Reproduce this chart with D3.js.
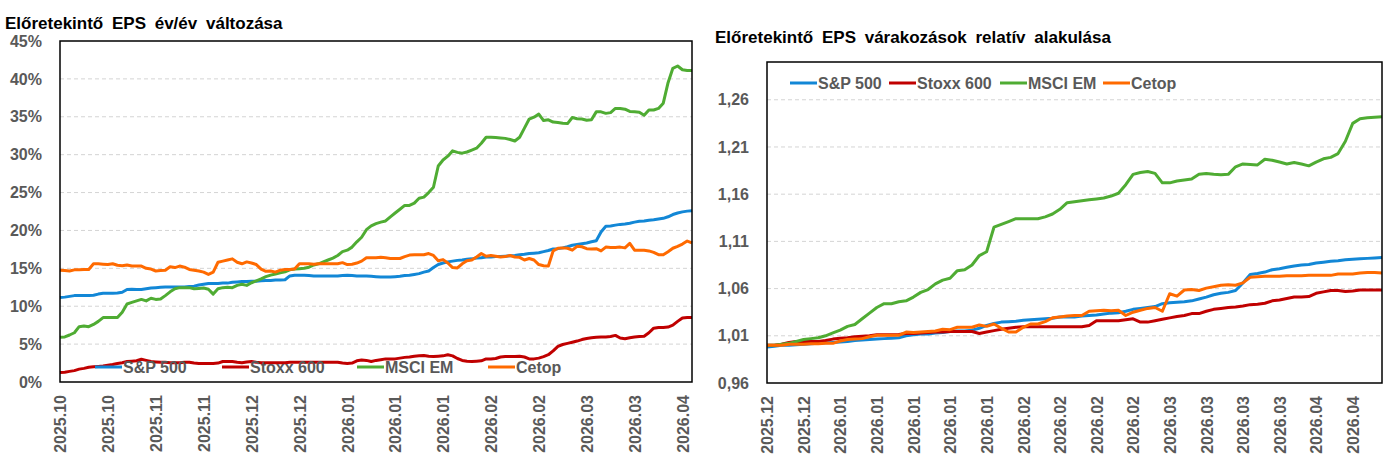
<!DOCTYPE html>
<html>
<head>
<meta charset="utf-8">
<script src="https://cdn.jsdelivr.net/npm/d3@7/dist/d3.min.js"></script>
<style>
  body { margin: 0; background: #ffffff; }
  svg text { font-family: "Liberation Sans", Arial, sans-serif; font-weight: bold; }
</style>
</head>
<body>
<script>
var seriesNames = ["S&P 500", "Stoxx 600", "MSCI EM", "Cetop"];
var seriesColors = ["#1287d6", "#c00000", "#4fac33", "#ff6a00"];

// bal oldali grafikon: eves valtozas, %
var yoyDateLabels = ["2025.10", "2025.10", "2025.11", "2025.11", "2025.12", "2025.12", "2026.01",
  "2026.01", "2026.01", "2026.02", "2026.02", "2026.03", "2026.03", "2026.04"];
var yoyTicks = [0, 5, 10, 15, 20, 25, 30, 35, 40, 45];

var yoySp500 = [11.15, 11.2, 11.3, 11.4, 11.4, 11.4, 11.4, 11.45, 11.6, 11.7,
  11.7, 11.7, 11.75, 11.85, 12.2, 12.25, 12.2, 12.2, 12.3, 12.4,
  12.45, 12.5, 12.55, 12.55, 12.55, 12.55, 12.55, 12.6, 12.65, 12.8,
  12.9, 13.0, 13.0, 13.0, 13.05, 13.05, 13.15, 13.2, 13.25, 13.25,
  13.3, 13.3, 13.35, 13.4, 13.4, 13.45, 13.45, 13.5, 14.0, 14.1,
  14.1, 14.1, 14.05, 14.0, 14.0, 14.0, 14.0, 14.0, 14.0, 14.05,
  14.1, 14.05, 14.0, 14.0, 14.0, 13.95, 13.9, 13.85, 13.85, 13.85,
  13.9, 13.95, 14.05, 14.1, 14.2, 14.3, 14.5, 14.65, 15.1, 15.5,
  15.7, 15.85, 15.95, 16.05, 16.1, 16.2, 16.25, 16.35, 16.4, 16.5,
  16.5, 16.55, 16.55, 16.6, 16.65, 16.7, 16.8, 16.85, 16.95, 17.0,
  17.05, 17.2, 17.35, 17.55, 17.6, 17.7, 17.85, 18.05, 18.15, 18.25,
  18.35, 18.5, 18.65, 19.8, 20.55, 20.6, 20.7, 20.8, 20.85, 20.95,
  21.1, 21.2, 21.25, 21.35, 21.4, 21.5, 21.6, 21.8, 22.1, 22.3,
  22.45, 22.55, 22.6];

var yoyStoxx600 = [1.25, 1.3, 1.4, 1.5, 1.7, 1.8, 1.95, 2.0, 2.05, 2.1,
  2.2, 2.3, 2.45, 2.55, 2.7, 2.75, 2.8, 3.0, 2.85, 2.7,
  2.65, 2.6, 2.6, 2.55, 2.55, 2.55, 2.6, 2.6, 2.5, 2.45,
  2.45, 2.45, 2.45, 2.5, 2.7, 2.7, 2.7, 2.6, 2.55, 2.65,
  2.7, 2.6, 2.55, 2.55, 2.55, 2.55, 2.55, 2.55, 2.6, 2.6,
  2.6, 2.6, 2.6, 2.6, 2.6, 2.6, 2.6, 2.6, 2.6, 2.5,
  2.45, 2.5, 2.8, 2.9, 2.85, 2.7, 2.85, 2.95, 3.05, 3.05,
  3.05, 3.15, 3.25, 3.3, 3.4, 3.45, 3.5, 3.4, 3.35, 3.4,
  3.45, 3.6, 3.45, 3.1, 2.85, 2.75, 2.7, 2.75, 2.8, 3.05,
  3.05, 3.1, 3.3, 3.35, 3.35, 3.35, 3.4, 3.3, 3.05, 3.05,
  3.15, 3.35, 3.6, 4.1, 4.7, 4.95, 5.1, 5.25, 5.4, 5.6,
  5.75, 5.85, 5.9, 5.95, 5.95, 6.0, 6.15, 5.8, 5.7, 5.85,
  5.95, 6.0, 6.05, 6.5, 7.1, 7.2, 7.2, 7.25, 7.5, 8.0,
  8.45, 8.5, 8.5];

var yoyMsciEm = [5.9, 5.95, 6.2, 6.5, 7.3, 7.4, 7.3, 7.6, 8.0, 8.5,
  8.5, 8.5, 8.5, 9.2, 10.3, 10.5, 10.7, 10.9, 10.7, 11.05,
  10.9, 10.95, 11.4, 11.9, 12.3, 12.45, 12.45, 12.45, 12.3, 12.35,
  12.4, 12.25, 11.6, 12.3, 12.45, 12.5, 12.45, 12.75, 12.9, 12.75,
  13.1, 13.35, 13.6, 13.9, 14.1, 14.25, 14.4, 14.55, 14.8, 14.9,
  14.95, 15.0, 15.15, 15.45, 15.6, 15.85, 16.1, 16.35, 16.7, 17.2,
  17.4, 17.8, 18.5, 19.1, 20.1, 20.6, 20.9, 21.1, 21.25, 21.8,
  22.3, 22.8, 23.3, 23.3, 23.6, 24.25, 24.4, 25.0, 25.7, 28.5,
  29.3, 29.8, 30.5, 30.3, 30.2, 30.35, 30.6, 30.85, 31.5, 32.3,
  32.3, 32.25, 32.2, 32.15, 32.0, 31.8, 32.3, 33.5, 34.7, 34.95,
  35.35, 34.5, 34.6, 34.3, 34.25, 34.15, 34.1, 34.9, 34.75, 34.7,
  34.55, 34.6, 35.65, 35.65, 35.45, 35.55, 36.1, 36.1, 36.0, 35.7,
  35.65, 35.6, 35.2, 35.9, 35.9, 36.1, 36.8, 39.5, 41.4, 41.7,
  41.2, 41.1, 41.1];

var yoyCetop = [14.75, 14.7, 14.65, 14.8, 14.8, 14.85, 14.85, 15.6, 15.6, 15.55,
  15.5, 15.6, 15.4, 15.35, 15.45, 15.3, 15.3, 15.3, 15.0, 14.9,
  14.65, 14.7, 14.75, 15.2, 15.1, 15.3, 15.15, 14.85, 14.75, 14.65,
  14.5, 14.2, 14.5, 15.8, 15.95, 16.1, 16.25, 15.8, 15.6, 15.85,
  15.7, 15.5, 14.9, 14.6, 14.65, 14.5, 14.75, 14.85, 14.85, 14.9,
  15.6, 15.6, 15.6, 15.55, 15.6, 15.6, 15.6, 15.6, 15.6, 15.75,
  15.5, 15.55, 15.7, 15.95, 16.4, 16.4, 16.4, 16.45, 16.4, 16.3,
  16.3, 16.3, 16.55, 16.75, 16.8, 16.8, 16.8, 16.95, 16.7, 16.0,
  16.15, 15.7, 15.1, 15.05, 15.6, 16.0, 16.1, 16.5, 16.95, 16.6,
  16.7, 16.6, 16.5, 16.55, 16.7, 16.5, 16.45, 16.1, 16.3, 16.1,
  15.5, 15.35, 15.3, 17.3, 17.65, 17.7, 17.65, 17.4, 17.9, 17.85,
  17.6, 17.55, 17.6, 17.3, 17.8, 17.75, 17.75, 17.8, 17.7, 18.3,
  17.4, 17.4, 17.4, 17.3, 17.1, 16.8, 16.8, 17.2, 17.65, 17.9,
  18.2, 18.6, 18.35];

// jobb oldali grafikon: relativ alakulas
var relDateLabels = ["2025.12", "2025.12", "2026.01", "2026.01", "2026.01", "2026.01", "2026.01",
  "2026.02", "2026.02", "2026.02", "2026.02", "2026.03", "2026.03", "2026.03", "2026.03",
  "2026.04", "2026.04"];
var relTicks = [0.96, 1.01, 1.06, 1.11, 1.16, 1.21, 1.26];

var relSp500 = [0.998, 0.999, 1.000, 1.000, 1.0005, 1.001, 1.0015, 1.002, 1.0025, 1.003,
  1.0035, 1.004, 1.005, 1.0055, 1.006, 1.0065, 1.007, 1.0075, 1.008, 1.010,
  1.011, 1.012, 1.012, 1.013, 1.0135, 1.0145, 1.015, 1.015, 1.016, 1.018,
  1.021, 1.023, 1.0245, 1.025, 1.0255, 1.0265, 1.027, 1.0275, 1.028, 1.0285,
  1.030, 1.030, 1.030, 1.031, 1.0315, 1.032, 1.033, 1.034, 1.0345, 1.036,
  1.038, 1.039, 1.040, 1.041, 1.044, 1.045, 1.0455, 1.046, 1.047, 1.049,
  1.051, 1.0535, 1.055, 1.056, 1.058, 1.066, 1.075, 1.076, 1.0775, 1.080,
  1.081, 1.0825, 1.084, 1.085, 1.0855, 1.087, 1.088, 1.089, 1.0895, 1.0905,
  1.091, 1.0915, 1.092, 1.0925, 1.093];

var relStoxx600 = [1.000, 1.000, 1.001, 1.003, 1.004, 1.004, 1.004, 1.004, 1.005, 1.0065,
  1.0075, 1.008, 1.009, 1.0095, 1.010, 1.011, 1.011, 1.011, 1.0115, 1.0125,
  1.0125, 1.013, 1.0135, 1.014, 1.014, 1.0145, 1.0145, 1.0145, 1.0145, 1.0125,
  1.014, 1.0155, 1.017, 1.018, 1.019, 1.0195, 1.0195, 1.0195, 1.0195, 1.0195,
  1.0195, 1.0195, 1.0195, 1.0195, 1.021, 1.026, 1.026, 1.026, 1.026, 1.027,
  1.028, 1.0245, 1.0245, 1.026, 1.0275, 1.029, 1.0305, 1.0315, 1.0335, 1.0335,
  1.036, 1.038, 1.039, 1.040, 1.0405, 1.0415, 1.043, 1.0435, 1.0445, 1.047,
  1.048, 1.0495, 1.051, 1.051, 1.0515, 1.055, 1.0565, 1.058, 1.058, 1.057,
  1.0575, 1.0585, 1.0585, 1.0585, 1.0585];

var relMsciEm = [1.000, 1.000, 1.001, 1.002, 1.004, 1.006, 1.007, 1.008, 1.010, 1.013,
  1.016, 1.020, 1.022, 1.028, 1.034, 1.040, 1.044, 1.044, 1.046, 1.047,
  1.051, 1.056, 1.059, 1.065, 1.069, 1.071, 1.079, 1.080, 1.085, 1.095,
  1.099, 1.125, 1.128, 1.131, 1.134, 1.134, 1.134, 1.134, 1.136, 1.139,
  1.144, 1.151, 1.152, 1.153, 1.154, 1.155, 1.156, 1.158, 1.161, 1.170,
  1.181, 1.183, 1.184, 1.182, 1.172, 1.172, 1.174, 1.175, 1.176, 1.181,
  1.182, 1.181, 1.1805, 1.181, 1.189, 1.192, 1.1915, 1.191, 1.197, 1.196,
  1.194, 1.192, 1.1935, 1.192, 1.190, 1.194, 1.1975, 1.199, 1.203, 1.216,
  1.235, 1.240, 1.241, 1.2415, 1.242];

var relCetop = [1.000, 1.000, 1.000, 1.001, 1.001, 1.001, 1.0015, 1.0015, 1.002, 1.002,
  1.0045, 1.006, 1.0065, 1.007, 1.009, 1.0105, 1.0105, 1.0105, 1.0105, 1.014,
  1.0135, 1.014, 1.0145, 1.015, 1.017, 1.0165, 1.019, 1.019, 1.019, 1.0215,
  1.020, 1.0225, 1.018, 1.014, 1.014, 1.019, 1.0225, 1.0225, 1.025, 1.029,
  1.030, 1.031, 1.0315, 1.0315, 1.036, 1.0365, 1.037, 1.0365, 1.037, 1.0315,
  1.035, 1.037, 1.039, 1.040, 1.036, 1.0545, 1.052, 1.0585, 1.059, 1.058,
  1.0605, 1.062, 1.0635, 1.064, 1.0635, 1.066, 1.072, 1.0725, 1.073, 1.073,
  1.073, 1.0735, 1.0735, 1.0735, 1.074, 1.074, 1.074, 1.074, 1.0755, 1.0755,
  1.0755, 1.0765, 1.077, 1.077, 1.0765];

var svg = d3.select("body")
  .append("svg")
  .attr("width", 1398)
  .attr("height", 474);

function drawChart(cfg) {
  var g = svg.append("g");
  var n = cfg.series[0].length;

  var x = d3.scalePoint()
    .domain(d3.range(n))
    .range([cfg.left, cfg.right]);
  var y = d3.scaleLinear()
    .domain(cfg.yDomain)
    .range([cfg.bottom, cfg.top]);

  g.append("text")
    .attr("x", cfg.titleX)
    .attr("y", cfg.titleY)
    .attr("font-size", 17)
    .attr("word-spacing", 4)
    .attr("fill", "#000000")
    .text(cfg.title);

  // szaggatott racsvonalak
  g.selectAll("line.grid")
    .data(cfg.yTicks.filter(function (d) {
      return y(d) < cfg.bottom - 1 && y(d) > cfg.top + 1;
    }))
    .enter()
    .append("line")
    .classed("grid", true)
    .attr("x1", cfg.left)
    .attr("x2", cfg.right)
    .attr("y1", function (d) { return y(d); })
    .attr("y2", function (d) { return y(d); })
    .attr("stroke", "#d4d4d4")
    .attr("stroke-width", 1)
    .attr("stroke-dasharray", "4 3");

  var yAxis = g.append("g")
    .attr("transform", "translate(" + cfg.left + ",0)")
    .call(d3.axisLeft(y).tickValues(cfg.yTicks).tickSize(0).tickPadding(18).tickFormat(cfg.yFormat));
  yAxis.select(".domain").remove();
  yAxis.selectAll("text")
    .attr("font-size", 16)
    .attr("fill", "#595959")
    .style("font-family", null);

  var xAxis = g.append("g")
    .attr("transform", "translate(0," + cfg.bottom + ")")
    .call(d3.axisBottom(x)
      .tickValues(d3.range(0, n, cfg.labelStep))
      .tickSize(0)
      .tickFormat(function (d) { return cfg.dateLabels[d / cfg.labelStep]; }));
  xAxis.select(".domain").remove();
  xAxis.selectAll("text")
    .attr("transform", "rotate(-90)")
    .attr("x", -13)
    .attr("y", 0)
    .attr("dy", "0.36em")
    .attr("text-anchor", "end")
    .attr("font-size", 16)
    .attr("fill", "#595959");

  var line = d3.line()
    .x(function (d, i) { return x(i); })
    .y(function (d) { return y(d); });

  g.selectAll("path.series")
    .data(cfg.series)
    .enter()
    .append("path")
    .classed("series", true)
    .attr("d", line)
    .attr("fill", "none")
    .attr("stroke", function (d, i) { return seriesColors[i]; })
    .attr("stroke-width", 3)
    .attr("stroke-linejoin", "round");

  g.append("rect")
    .attr("x", cfg.left)
    .attr("y", cfg.top)
    .attr("width", cfg.right - cfg.left)
    .attr("height", cfg.bottom - cfg.top)
    .attr("fill", "none")
    .attr("stroke", "#000000")
    .attr("stroke-width", 1.5);

  var legend = g.selectAll("g.legend")
    .data(seriesNames)
    .enter()
    .append("g")
    .classed("legend", true)
    .attr("transform", function (d, i) {
      return "translate(" + cfg.legendX[i] + "," + cfg.legendY + ")";
    });
  legend.append("line")
    .attr("x1", 0)
    .attr("x2", 27)
    .attr("stroke", function (d, i) { return seriesColors[i]; })
    .attr("stroke-width", 3);
  legend.append("text")
    .attr("x", 28)
    .attr("dy", "0.36em")
    .attr("font-size", 16)
    .attr("fill", "#595959")
    .text(function (d) { return d; });
}

drawChart({
  title: "Előretekintő EPS év/év változása",
  titleX: 5,
  titleY: 29,
  left: 60,
  right: 692,
  top: 41,
  bottom: 382,
  yDomain: [0, 45],
  yTicks: yoyTicks,
  yFormat: function (d) { return d + "%"; },
  dateLabels: yoyDateLabels,
  labelStep: 10,
  series: [yoySp500, yoyStoxx600, yoyMsciEm, yoyCetop],
  legendX: [95, 222, 357, 488],
  legendY: 367
});

drawChart({
  title: "Előretekintő EPS várakozások relatív alakulása",
  titleX: 715,
  titleY: 43,
  left: 767,
  right: 1382,
  top: 62,
  bottom: 383,
  yDomain: [0.96, 1.30],
  yTicks: relTicks,
  yFormat: function (d) { return d3.format(".2f")(d).replace(".", ","); },
  dateLabels: relDateLabels,
  labelStep: 5,
  series: [relSp500, relStoxx600, relMsciEm, relCetop],
  legendX: [790, 889, 1000, 1103],
  legendY: 83
});
</script>
</body>
</html>
